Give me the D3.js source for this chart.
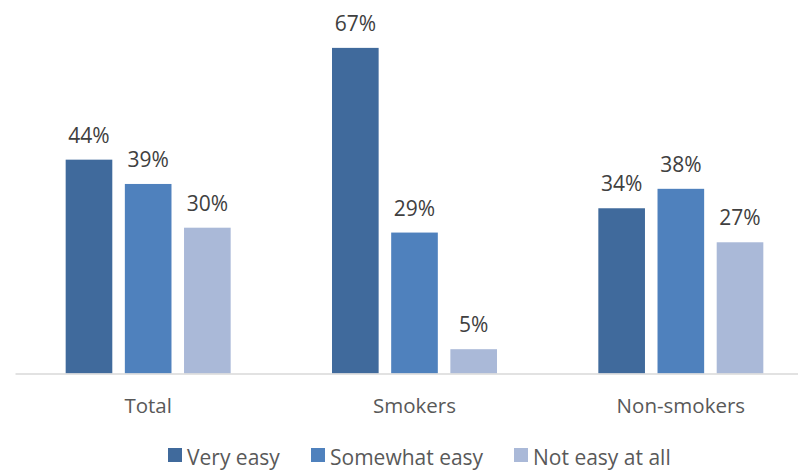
<!DOCTYPE html>
<html>
<head>
<meta charset="utf-8">
<script src="https://cdn.jsdelivr.net/npm/d3@7"></script>
<style>
  html, body { margin: 0; padding: 0; background: #fff; }
  svg { display: block; font-family: "Open Sans", sans-serif; }
</style>
</head>
<body>
<svg id="chart" width="798" height="470"></svg>
<script>
// Groups along the x axis
const categories = ["Total", "Smokers", "Non-smokers"];
// Answer options (one bar each per group)
const series = ["Very easy", "Somewhat easy", "Not easy at all"];
// Percentages per answer option, in category order
const veryEasy = [44, 67, 34];
const somewhatEasy = [39, 29, 38];
const notEasy = [30, 5, 27];
const seriesValues = [veryEasy, somewhatEasy, notEasy];
const colors = ["#406A9C", "#4F81BD", "#AAB9D8"];

const svg = d3.select("#chart");
const baseY = 373.5;

const x = d3.scaleBand().domain(categories).range([15, 814]).padding(0);
const xSub = d3.scaleBand().domain(series).range([-82.5, 82.5]).paddingInner(0.212).paddingOuter(0);
const y = d3.scaleLinear().domain([0, 70]).range([baseY, baseY - 70 * 4.86]);

const rows = [];
categories.forEach((c, ci) => {
  series.forEach((s, si) => {
    rows.push({ cat: c, series: s, si, value: seriesValues[si][ci] });
  });
});

const g = svg.append("g");

g.selectAll("rect.bar")
  .data(rows)
  .join("rect")
  .attr("class", "bar")
  .attr("x", d => x(d.cat) + x.bandwidth() / 2 + xSub(d.series))
  .attr("y", d => y(d.value))
  .attr("width", xSub.bandwidth())
  .attr("height", d => y(0) - y(d.value))
  .attr("fill", d => colors[d.si]);

// Value labels above bars
g.selectAll("text.val")
  .data(rows)
  .join("text")
  .attr("class", "val")
  .attr("x", d => x(d.cat) + x.bandwidth() / 2 + xSub(d.series) + xSub.bandwidth() / 2)
  .attr("y", d => y(d.value) - 17)
  .attr("text-anchor", "middle")
  .attr("font-size", 21)
  .attr("fill", "#404040")
  .text(d => d.value + "%");

// Category axis
const axis = svg.append("g")
  .attr("transform", `translate(0,${baseY})`)
  .call(d3.axisBottom(x).tickSize(0).tickPadding(0));
axis.select(".domain").attr("stroke", "#D9D9D9").attr("stroke-width", 1.5);
axis.selectAll(".tick text")
  .attr("y", 39)
  .attr("dy", 0)
  .attr("font-family", "Open Sans, sans-serif")
  .attr("font-size", 20.5)
  .attr("fill", "#595959");

// Legend
const legendX = [168, 311, 514];
const legend = svg.append("g");
series.forEach((s, i) => {
  legend.append("rect")
    .attr("x", legendX[i]).attr("y", 448)
    .attr("width", 14).attr("height", 14)
    .attr("fill", colors[i]);
  legend.append("text")
    .attr("x", legendX[i] + 19).attr("y", 465)
    .attr("font-size", 21)
    .attr("fill", "#595959")
    .text(s);
});
</script>
</body>
</html>
